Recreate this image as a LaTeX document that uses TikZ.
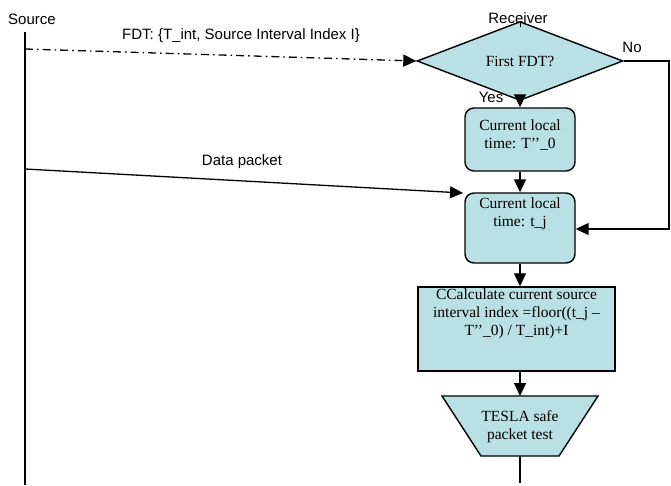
\documentclass[tikz,border=0pt]{standalone}
\usepackage{fontspec}
\setmainfont{Liberation Serif}
\setsansfont{Liberation Sans}
\usetikzlibrary{arrows.meta,shapes.geometric}
\definecolor{boxfill}{RGB}{185,224,228}
\tikzset{
  conn/.style={line width=1.3pt,draw=black},
  arr/.style={conn,-{Triangle[length=13pt,width=12pt]}},
  lbl/.style={font=\fontsize{15pt}{18pt}\sffamily,inner sep=0pt},
  boxtext/.style={font=\fontsize{15.5pt}{18pt}\selectfont,align=center,inner sep=0pt},
  rbox/.style={draw=black,line width=1.4pt,fill=boxfill,rounded corners=9pt,minimum width=110pt,inner sep=0pt},
  sbox/.style={draw=black,line width=1.4pt,fill=boxfill,minimum width=197pt,minimum height=84pt,inner sep=0pt},
}
\begin{document}
\begin{tikzpicture}[x=1pt,y=-1pt]
\useasboundingbox (0,0) rectangle (671,486);
% labels
\node[lbl] (srclbl) at (32,19) {Source};
\node[lbl] (rcvlbl) at (518,18) {Receiver};
\node[lbl] (fdtlbl) at (241,36) {FDT: \{T\_int, Source Interval Index I\}};
\node[lbl] (datalbl) at (242,162) {Data packet};
\node[lbl] (yeslbl) at (491,97) {Yes};
\node[lbl] (nolbl) at (632,47) {No};
% source life line
\coordinate (srcT) at (25,32);
\coordinate (srcB) at (25,485);
\draw[conn] (srcT) -- (srcB);
\coordinate (fdtS) at (25,49);
\coordinate (dataS) at (25,169);
% decision
\node[diamond,draw=black,line width=1.4pt,fill=boxfill,minimum width=206pt,minimum height=54pt,inner sep=0pt,font=\fontsize{15.5pt}{18pt}\selectfont] (dec) at (520,61) {First FDT?};
\coordinate (rcvT) at (520,27);
\draw[conn,line width=1pt] (rcvT) -- (dec.north);
% boxes
\node[rbox,minimum height=63pt] (b1) at (520,139.5) {};
\node[boxtext] at (520,135) {Current local\\time: T’’\_0};
\node[rbox,minimum height=70pt] (b2) at (520,228) {};
\node[boxtext,anchor=north] at (520,198) {Current local\\time: t\_j};
\node[sbox] (b3) at (516.5,329) {};
\node[boxtext,anchor=north] at (516.5,289) {CCalculate current source\\interval index =floor((t\_j –\\T’’\_0) / T\_int)+I};
% trapezium
\coordinate (trT) at (520,396);
\coordinate (trB) at (520,456);
\draw[line width=1.4pt,fill=boxfill] (442,396) -- (598,396) -- (559,456) -- (481,456) -- cycle;
\node[boxtext] (tr) at (520,427) {TESLA safe\\packet test};
\coordinate (endB) at (520,483);
% connectors
\draw[arr,dash pattern=on 8pt off 4pt on 1.6pt off 4pt] (fdtS) -- (dec.west);
\draw[arr] (dataS) -- (463,193);
\draw[arr] (dec.south) -- (b1.north);
\draw[arr] (b1.south) -- (b2.north);
\coordinate (loopA) at (669,61);
\coordinate (loopB) at (669,229);
\draw[arr] (dec.east) -- (loopA) -- (loopB) -- (b2.east |- loopB);
\draw[arr] (b2.south) -- (b2.south |- b3.north);
\draw[arr] (b3.south -| trT) -- (trT);
\draw[conn] (trB) -- (endB);
\end{tikzpicture}
\end{document}
